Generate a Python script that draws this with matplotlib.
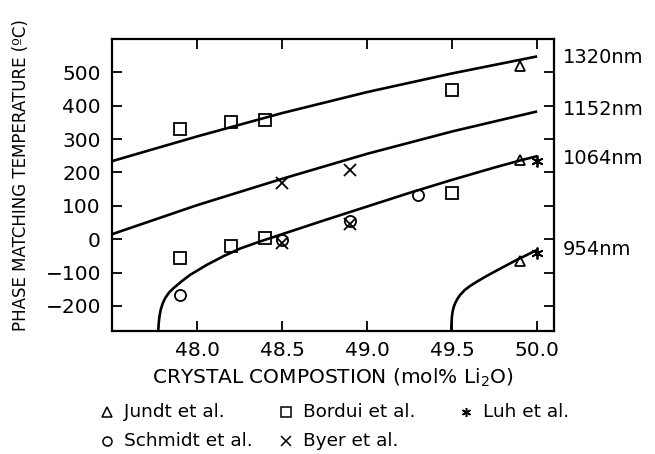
import numpy as np
import matplotlib
matplotlib.use("Agg")
import matplotlib.pyplot as plt
from matplotlib.lines import Line2D

plt.rcParams['font.family'] = ['DejaVu Sans']
plt.rcParams['mathtext.default'] = 'regular'

# theoretical curves
c1320_x = [47.5, 48.0, 48.5, 49.0, 49.5, 50.0]
c1320_y = [234, 308, 378, 441, 497, 548]

c1152_x = [47.5, 48.0, 48.5, 49.0, 49.5, 50.0]
c1152_y = [15, 102, 181, 256, 323, 383]

c1064_x = [47.772, 47.775, 47.779, 47.786, 47.797, 47.812, 47.835, 47.861,
           47.91, 47.959, 48.057, 48.155, 48.253, 48.375, 48.5, 48.75,
           49.0, 49.25, 49.5, 49.75, 49.9, 50.0]
c1064_y = [-275, -250, -232, -212, -194, -177, -160, -147,
           -126, -107, -77, -51, -28, -6, 15, 57,
           98, 139, 178, 215, 236, 249]

c954_x = [49.495, 49.4965, 49.499, 49.504, 49.511, 49.518, 49.53, 49.547,
          49.575, 49.606, 49.65, 49.70, 49.78, 49.88, 50.0]
c954_y = [-275, -250, -232, -214, -201, -192, -180, -167,
          -152, -140, -126, -111, -89, -62, -32]

curve_names = ['1320nm', '1152nm', '1064nm', '954nm']
label_y = [544, 388, 241, -32]

# measured points
jundt_x = [49.9, 49.9, 49.9]
jundt_y = [518, 236, -66]
bordui_x = [47.9, 48.2, 48.4, 49.5, 47.9, 48.2, 48.4, 49.5]
bordui_y = [330, 350, 358, 447, -55, -20, 5, 138]
luh_x = [50.0, 50.0]
luh_y = [233, -42]
schmidt_x = [47.9, 48.5, 48.9, 49.3]
schmidt_y = [-166, -3, 55, 133]
byer_x = [48.5, 48.9, 48.5, 48.9]
byer_y = [170, 207, -10, 45]

xticks = [48.0, 48.5, 49.0, 49.5, 50.0]
yticks = [-200, -100, 0, 100, 200, 300, 400, 500]

fig = plt.figure(figsize=(6.55, 4.54), dpi=100)
ax = fig.add_axes([0.171, 0.271, 0.675, 0.643])

for cx, cy in [(c1320_x, c1320_y), (c1152_x, c1152_y), (c1064_x, c1064_y), (c954_x, c954_y)]:
    ax.plot(cx, cy, color='black', lw=1.9, solid_capstyle='butt', solid_joinstyle='round')

mk = dict(linestyle='none', color='black', markerfacecolor='none', mew=1.3, clip_on=False)
ax.plot(jundt_x, jundt_y, marker='^', ms=7.5, **mk)
ax.plot(bordui_x, bordui_y, marker='s', ms=8, **mk)
ax.plot(luh_x, luh_y, marker=(6, 2, 0), ms=8.5, **mk)
ax.plot(schmidt_x, schmidt_y, marker='o', ms=8, **mk)
ax.plot(byer_x, byer_y, marker='x', ms=8, **mk)

ax.set_xlim(47.5, 50.1)
ax.set_ylim(-275, 600)
ax.set_xticks(xticks)
ax.set_xticklabels(['%.1f' % v for v in xticks])
ax.set_yticks(yticks)
ax.tick_params(direction='in', length=7, width=1.3, top=True, right=True,
               labelsize=14.5, pad=7)
ax.tick_params(axis='y', pad=8)
for s in ax.spines.values():
    s.set_linewidth(1.6)

ax.set_xlabel('CRYSTAL COMPOSTION (mol% Li$_2$O)', fontsize=14.5, labelpad=5)
ax.set_ylabel('PHASE MATCHING TEMPERATURE (ºC)', fontsize=12)
ax.yaxis.set_label_coords(-0.185, 0.535)

for name, ly in zip(curve_names, label_y):
    ax.text(1.02, ly, name, transform=ax.get_yaxis_transform(), fontsize=14,
            va='center', ha='left')

# legend laid out on a grid below the axes
leg_items = [('^', 'Jundt et al.', 107, 412), ('s', 'Bordui et al.', 286, 412),
             ((6, 2, 0), 'Luh et al.', 466, 412), ('o', 'Schmidt et al.', 107, 441),
             ('x', 'Byer et al.', 286, 441)]
W, H = 655.0, 454.0
for m, txt, px, py in leg_items:
    fig.add_artist(Line2D([px / W], [1 - py / H], marker=m, ms=6.5, color='black',
                          markerfacecolor='none', mew=1.1, linestyle='none',
                          transform=fig.transFigure))
    fig.text((px + 17) / W, 1 - py / H, txt, fontsize=13.3, va='center', ha='left')

fig.savefig('out.png', dpi=100)
